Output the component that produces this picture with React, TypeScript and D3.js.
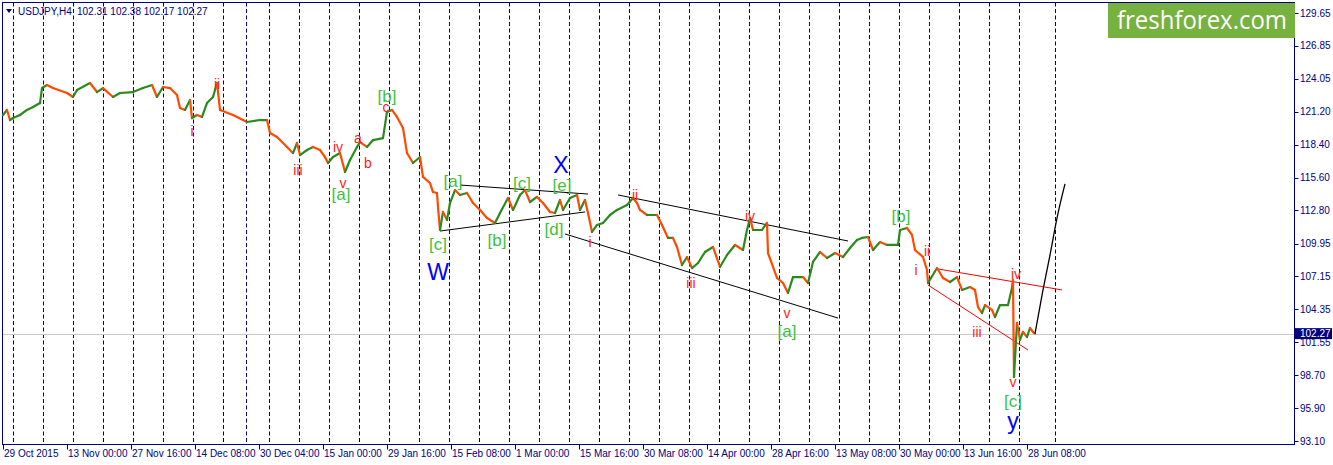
import React, { useEffect } from "react";
import * as d3 from "d3";

const W = 1333;
const H = 465;

const symbolTitle = "USDJPY,H4";
const headerOHLC = ["102.31", "102.38", "102.17", "102.27"];
const lastPrice = 102.27;

const yTicks = [129.65, 126.85, 124.05, 121.2, 118.4, 115.6, 112.8, 109.95, 107.15, 104.35, 101.55, 98.7, 95.9, 93.1];

const xTickBars = [0, 64, 128, 192, 256, 320, 384, 448, 512, 576, 640, 704, 768, 832, 896, 960, 1024];
const xTickLabels = [
  "29 Oct 2015", "13 Nov 00:00", "27 Nov 16:00", "14 Dec 08:00", "30 Dec 04:00", "15 Jan 00:00",
  "29 Jan 16:00", "15 Feb 08:00", "1 Mar 00:00", "15 Mar 16:00", "30 Mar 08:00", "14 Apr 00:00",
  "28 Apr 16:00", "13 May 08:00", "30 May 00:00", "13 Jun 16:00", "28 Jun 08:00",
];

// week separators (bar index)
const weekSeparators = [
  10.5, 40.5, 70.5, 100.5, 130.5, 160.5, 190.5, 220.5, 243.5, 266.5, 296.5, 326.5, 356.5, 386.5,
  416.5, 446.5, 476.5, 506.5, 536.5, 566.5, 596.5, 626.5, 656.5, 686.5, 716.5, 746.5, 776.5, 806.5,
  836.5, 866.5, 896.5, 926.5, 956.5, 986.5, 1016.5, 1052.5,
];

// [bar, price]
const pricePath: [number, number][] = [
  [0, 120.94], [4, 121.37], [7, 120.51], [10, 120.68], [17, 120.94], [24, 121.37], [30, 121.62], [37, 121.96],
  [39, 123.24], [44, 123.5], [50, 123.24], [64, 122.82], [70, 122.48], [74, 123.07], [87, 123.67], [94, 122.9],
  [100, 123.24], [110, 122.48], [117, 122.82], [130, 122.9], [140, 123.24], [149, 123.5], [154, 122.48], [160, 123.33],
  [167, 123.24], [174, 122.65], [177, 121.54], [182, 121.37], [187, 122.22], [189, 120.68], [194, 120.94], [199, 120.77],
  [204, 121.96], [210, 122.48], [214, 123.67], [217, 121.37], [230, 120.94], [240, 120.51], [244, 120.34], [257, 120.51],
  [264, 120.51], [267, 119.4], [274, 119.06], [284, 118.21], [290, 117.69], [294, 118.55], [297, 117.52], [304, 117.95],
  [310, 118.21], [317, 117.95], [322, 117.35], [325, 116.84], [330, 117.35], [337, 117.69], [342, 116.07], [347, 117.1],
  [354, 118.21], [357, 118.63], [364, 118.21], [370, 118.8], [380, 118.97], [384, 121.2], [389, 121.37], [394, 120.77],
  [400, 119.83], [404, 117.69], [410, 116.84], [417, 117.35], [420, 115.65], [427, 115.13], [430, 114.36], [434, 114.28],
  [435, 113.08], [437, 111.12], [440, 112.66], [444, 111.97], [447, 113.42], [452, 114.53], [457, 114.11], [464, 114.28],
  [470, 113.42], [477, 112.83], [484, 112.14], [492, 111.72], [497, 112.57], [505, 113.85], [510, 112.83], [517, 114.11],
  [522, 114.53], [527, 113.51], [534, 113.94], [540, 113.42], [547, 112.66], [552, 112.57], [557, 113.68], [560, 112.83],
  [567, 113.85], [574, 114.11], [577, 112.83], [582, 113.68], [585, 112.57], [589, 110.95], [594, 111.55], [600, 111.72],
  [607, 112.4], [614, 112.83], [624, 113.25], [630, 113.85], [634, 113.42], [637, 112.83], [644, 112.4], [654, 112.4],
  [659, 111.55], [665, 110.44], [670, 110.44], [674, 109.67], [679, 108.13], [684, 108.81], [689, 107.87], [695, 108.3],
  [702, 109.24], [710, 109.67], [717, 107.96], [724, 108.98], [732, 109.84], [740, 109.41], [744, 111.12], [747, 112.14],
  [750, 111.12], [759, 111.12], [764, 111.72], [765, 109.15], [770, 107.96], [774, 107.02], [780, 106.59], [785, 105.74],
  [790, 107.1], [800, 107.1], [805, 106.59], [810, 108.39], [817, 109.24], [824, 108.73], [832, 109.15], [840, 108.81],
  [847, 109.58], [854, 110.27], [859, 110.44], [865, 110.52], [870, 109.41], [877, 110.09], [884, 109.84], [895, 109.84],
  [897, 111.12], [904, 111.29], [909, 110.7], [912, 109.41], [920, 108.81], [924, 107.7], [925, 106.59], [934, 107.87],
  [940, 107.02], [947, 106.68], [954, 107.1], [959, 106.0], [967, 106.25], [972, 106.0], [975, 104.54], [979, 104.03],
  [982, 104.71], [989, 104.29], [992, 103.69], [997, 104.71], [1005, 104.71], [1009, 106.17], [1010, 106.85], [1011, 98.56],
  [1014, 103.18], [1017, 101.73], [1020, 102.41], [1024, 101.98], [1027, 102.75], [1030, 102.41], [1032, 102.27],
];

const forecastPath: [number, number][] = [
  [1032, 102.27], [1040, 106.0], [1047, 108.98], [1054, 112.14], [1062, 115.05],
];

// [bar0, price0, bar1, price1]
const blackTrendLines = [
  [457, 114.96, 585, 114.19],
  [437, 111.03, 582, 112.66],
  [562, 110.78, 835, 103.6],
  [615, 114.11, 845, 110.18],
];
const redTrendLines = [
  [935, 107.79, 1059, 106.0],
  [925, 106.42, 1025, 100.87],
];

type Note = { text: string; bar: number; price: number };

const redWaveLabels: Note[] = [
  { text: "i", bar: 189, price: 119.57 }, { text: "ii", bar: 214, price: 123.59 },
  { text: "iii", bar: 295, price: 116.24 }, { text: "iv", bar: 335, price: 118.21 },
  { text: "v", bar: 340, price: 115.13 }, { text: "a", bar: 355, price: 118.97 },
  { text: "b", bar: 365, price: 116.84 }, { text: "c", bar: 383, price: 121.62 },
  { text: "i", bar: 587, price: 110.09 }, { text: "ii", bar: 632, price: 114.11 },
  { text: "iii", bar: 688, price: 106.59 }, { text: "iv", bar: 747, price: 112.31 },
  { text: "v", bar: 784, price: 104.03 }, { text: "i", bar: 913, price: 107.7 },
  { text: "ii", bar: 924, price: 109.32 }, { text: "iii", bar: 974, price: 102.41 },
  { text: "iv", bar: 1013, price: 107.36 }, { text: "v", bar: 1010, price: 98.14 },
];

const greenWaveLabels: Note[] = [
  { text: "[a]", bar: 338, price: 114.11 }, { text: "[b]", bar: 384, price: 122.48 },
  { text: "[c]", bar: 435, price: 109.84 }, { text: "[a]", bar: 450, price: 115.3 },
  { text: "[b]", bar: 494, price: 110.26 }, { text: "[c]", bar: 519, price: 115.13 },
  { text: "[e]", bar: 559, price: 114.88 }, { text: "[d]", bar: 551, price: 111.2 },
  { text: "[a]", bar: 784, price: 102.41 }, { text: "[b]", bar: 898, price: 112.23 },
  { text: "[c]", bar: 1010, price: 96.51 },
];

const blueWaveLabels: Note[] = [
  { text: "W", bar: 435, price: 107.53 },
  { text: "X", bar: 558, price: 116.67 },
  { text: "y", bar: 1010, price: 94.81 },
];

const FONT = "'Liberation Sans', Arial, sans-serif";
const NAVY = "#00007f";
const UP = "#2b8a1e";
const DOWN = "#ff4a00";

export default function App() {
  useEffect(() => {
    document.body.style.margin = "0";
  }, []);

  const left = 2.5, top = 2.5, right = 1294.5, bottom = 444.5;
  const x = d3.scaleLinear().domain([0, 1291]).range([3, 1294]);
  const y = d3.scaleLinear().domain([93.1, 129.65]).range([441, 13]);

  const segments = pricePath.slice(1).map((p, i) => {
    const prev = pricePath[i];
    return { x1: x(prev[0]), y1: y(prev[1]), x2: x(p[0]), y2: y(p[1]), up: p[1] >= prev[1] };
  });

  const forecastLine = d3.line<[number, number]>()
    .x((d) => x(d[0]))
    .y((d) => y(d[1]))
    .curve(d3.curveMonotoneX)(forecastPath) as string;

  const lastY = Math.round(y(lastPrice)) + 0.5;

  return (
    <svg width={W} height={H} style={{ display: "block", background: "#fff" }} fontFamily={FONT}>
      {/* week separators */}
      {weekSeparators.map((b, i) => (
        <line key={"w" + i} x1={x(b)} x2={x(b)} y1={top} y2={bottom} stroke={NAVY} strokeDasharray="4,2.5" strokeWidth={1} />
      ))}

      {/* current price line */}
      <line x1={left} x2={right} y1={lastY} y2={lastY} stroke="#c8c8c8" strokeWidth={1} />

      {/* frame */}
      <rect x={left} y={top} width={right - left} height={bottom - top} fill="none" stroke={NAVY} strokeWidth={1} />

      {/* trend lines */}
      {blackTrendLines.map((l, i) => (
        <line key={"bl" + i} x1={x(l[0])} y1={y(l[1])} x2={x(l[2])} y2={y(l[3])} stroke="#000" strokeWidth={1} />
      ))}
      {redTrendLines.map((l, i) => (
        <line key={"rl" + i} x1={x(l[0])} y1={y(l[1])} x2={x(l[2])} y2={y(l[3])} stroke="#ff0000" strokeWidth={1} />
      ))}

      {/* price */}
      {segments.map((s, i) => (
        <line key={"s" + i} x1={s.x1} y1={s.y1} x2={s.x2} y2={s.y2} stroke={s.up ? UP : DOWN} strokeWidth={2.2} strokeLinecap="round" />
      ))}

      <path d={forecastLine} fill="none" stroke="#000" strokeWidth={1.3} />

      {/* wave labels */}
      {redWaveLabels.map((n, i) => (
        <text key={"r" + i} x={x(n.bar)} y={y(n.price)} fill="#ff1a1a" fontSize={14} textAnchor="middle" dominantBaseline="central">{n.text}</text>
      ))}
      {greenWaveLabels.map((n, i) => (
        <text key={"g" + i} x={x(n.bar)} y={y(n.price)} fill="#3fbf3f" fontSize={17} textAnchor="middle" dominantBaseline="central">{n.text}</text>
      ))}
      {blueWaveLabels.map((n, i) => (
        <text key={"b" + i} x={x(n.bar)} y={y(n.price)} fill="#0000ff" fontSize={23} textAnchor="middle" dominantBaseline="central">{n.text}</text>
      ))}

      {/* y axis */}
      {yTicks.map((t) => (
        <g key={"y" + t}>
          <line x1={right} x2={right + 4} y1={Math.round(y(t)) + 0.5} y2={Math.round(y(t)) + 0.5} stroke={NAVY} />
          <text x={1300} y={y(t)} fill={NAVY} fontSize={10} dominantBaseline="central">{t.toFixed(2)}</text>
        </g>
      ))}
      <rect x={1295} y={y(lastPrice) - 5.5} width={37} height={11} fill={NAVY} />
      <text x={1300} y={y(lastPrice)} fill="#fff" fontSize={10} dominantBaseline="central">{lastPrice.toFixed(2)}</text>

      {/* x axis */}
      {xTickBars.map((b, i) => (
        <g key={"x" + i}>
          <line x1={x(b) + 0.5} x2={x(b) + 0.5} y1={bottom} y2={bottom + 5} stroke={NAVY} />
          <text x={x(b) + 1} y={457} fill={NAVY} fontSize={10}>{xTickLabels[i]}</text>
        </g>
      ))}

      {/* header */}
      <path d="M6,9 L12,9 L9,13 Z" fill={NAVY} />
      <text x={18} y={15} fill={NAVY} fontSize={10}>{symbolTitle}</text>
      <text x={77} y={15} fill={NAVY} fontSize={10}>{headerOHLC.join(" ")}</text>

      {/* logo */}
      <rect x={1108} y={3} width={187} height={35} fill="#77b13f" />
      <text x={1117} y={29} fill="#fff" fontSize={25} fontFamily="'Open Sans', sans-serif" textLength={170} lengthAdjust="spacingAndGlyphs">freshforex.com</text>
    </svg>
  );
}
